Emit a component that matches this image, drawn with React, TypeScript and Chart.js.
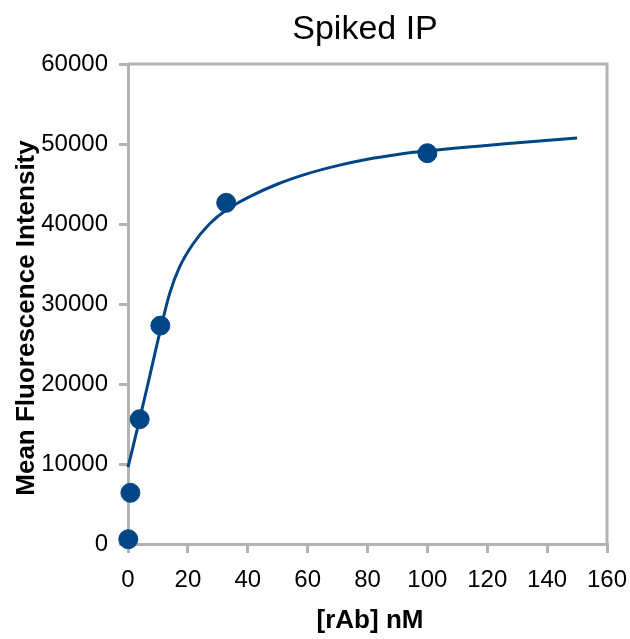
import React, { useEffect, useRef } from "react";
import { Chart, registerables } from "chart.js";

Chart.register(...registerables);

const chartTitle = "Spiked IP";
const xAxisTitle = "[rAb] nM";
const yAxisTitle = "Mean Fluorescence Intensity";

// measured points
const pointX = [0.1, 0.8, 3.9, 10.8, 32.8, 100];
const pointY = [600, 6400, 15600, 27300, 42650, 48850];

// fitted curve
const curveX = [0, 3.9, 7.2, 11.1, 13.9, 17.2, 21.7, 27.2, 32.8, 40, 50, 60, 70, 80, 90, 100, 125, 150];
const curveY = [9600, 15600, 20900, 27200, 31300, 34600, 37500, 40000, 41750, 43300, 45000, 46300, 47300, 48100, 48700, 49150, 50000, 50750];

const COLOR = "#004586";
const AXIS = "#b3b3b3";
const FONT = "'Liberation Sans', Arial, sans-serif";

const framePlugin = {
  id: "frame",
  afterDraw(chart: any) {
    const { ctx, chartArea } = chart;
    ctx.save();
    ctx.strokeStyle = AXIS;
    ctx.lineWidth = 3;
    ctx.beginPath();
    ctx.moveTo(chartArea.left, chartArea.top);
    ctx.lineTo(chartArea.right, chartArea.top);
    ctx.lineTo(chartArea.right, chartArea.bottom);
    ctx.stroke();
    ctx.restore();
  },
  beforeDatasetsDraw(chart: any) {
    const { ctx } = chart;
    ctx.save();
    ctx.fillStyle = "#000";
    ctx.textAlign = "center";
    ctx.textBaseline = "middle";
    ctx.font = `34px ${FONT}`;
    ctx.fillText(chartTitle, 365, 30);
    ctx.font = `bold 26px ${FONT}`;
    ctx.fillText(xAxisTitle, 370, 621);
    ctx.translate(27, 318);
    ctx.rotate(-Math.PI / 2);
    ctx.fillText(yAxisTitle, 0, 0);
    ctx.restore();
  },
};

export default function App() {
  const ref = useRef<HTMLCanvasElement>(null);
  useEffect(() => {
    const curve = curveX.map((x, i) => ({ x, y: curveY[i] }));
    const pts = pointX.map((x, i) => ({ x, y: pointY[i] }));
    const chart = new Chart(ref.current!, {
      type: "scatter",
      data: {
        datasets: [
          {
            data: pts,
            backgroundColor: COLOR,
            borderColor: COLOR,
            pointRadius: 9.5,
            pointHoverRadius: 9.5,
            showLine: false,
            clip: false as any,
          },
          {
            data: curve,
            borderColor: COLOR,
            backgroundColor: COLOR,
            borderWidth: 3,
            pointRadius: 0,
            showLine: true,
            cubicInterpolationMode: "monotone",
            clip: false as any,
          },
        ],
      },
      options: {
        animation: false,
        responsive: false,
        devicePixelRatio: 1,
        layout: { padding: { left: 0, top: 64, right: 23, bottom: 0 } },
        plugins: { legend: { display: false }, tooltip: { enabled: false }, title: { display: false } },
        scales: {
          x: {
            type: "linear",
            min: 0,
            max: 160,
            ticks: {
              stepSize: 20,
              color: "#000",
              font: { family: FONT, size: 24 },
              padding: 13,
              maxRotation: 0,
              callback: (v: any) => String(v),
            },
            grid: { drawOnChartArea: false, drawTicks: true, tickLength: 9, color: AXIS, lineWidth: 3 },
            border: { color: AXIS, width: 3 },
            afterFit: (s: any) => {
              s.height = 95;
              s.paddingRight = 0;
              s.paddingLeft = 0;
            },
          },
          y: {
            type: "linear",
            min: 0,
            max: 60000,
            ticks: {
              stepSize: 10000,
              color: "#000",
              font: { family: FONT, size: 24 },
              padding: 11,
              callback: (v: any) => String(v),
            },
            grid: { drawOnChartArea: false, drawTicks: true, tickLength: 9, color: AXIS, lineWidth: 3 },
            border: { color: AXIS, width: 3 },
            afterFit: (s: any) => {
              s.width = 128;
              s.paddingTop = 0;
              s.paddingBottom = 0;
            },
          },
        },
      },
      plugins: [framePlugin],
    });
    return () => chart.destroy();
  }, []);
  return (
    <div style={{ position: "absolute", left: 0, top: 0, width: 630, height: 639, background: "#fff" }}>
      <canvas ref={ref} width={630} height={639} style={{ width: 630, height: 639 }} />
    </div>
  );
}
